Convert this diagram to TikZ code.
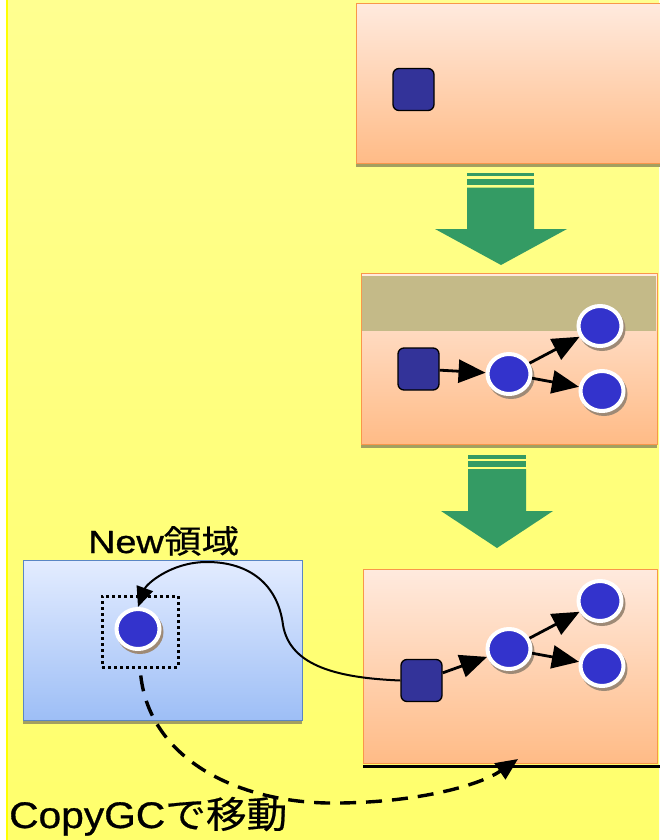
\documentclass[tikz,border=0pt]{standalone}
\usepackage{fontspec}
\usepackage{graphicx}
\setmainfont{Liberation Sans}
\newfontfamily\labelfont{Liberation Sans}[FakeBold=0.8]
\newfontfamily\cjk{Noto Sans CJK JP}[FakeBold=0.5]
\usetikzlibrary{arrows.meta,shapes.geometric,calc}

\definecolor{bgtop}{HTML}{FFFF90}
\definecolor{bgbot}{HTML}{FFFF6C}
\definecolor{edgeyellow}{HTML}{FFFF00}
\definecolor{heaptop}{HTML}{FFEADE}
\definecolor{heapbot}{HTML}{FFBB86}
\definecolor{heapedge}{HTML}{F9974A}
\definecolor{heapshadow}{HTML}{A3A060}
\definecolor{khaki}{HTML}{C4BA88}
\definecolor{newtop}{HTML}{E3ECFF}
\definecolor{newbot}{HTML}{9DBEF6}
\definecolor{newedge}{HTML}{5A86C4}
\definecolor{flowgreen}{HTML}{349B64}
\definecolor{rootblue}{HTML}{333399}
\definecolor{objblue}{HTML}{3333CC}
\definecolor{objshadow}{HTML}{9E8A76}

\tikzset{
  heapbox/.style={draw=heapedge, line width=1.2pt, top color=heaptop,
    bottom color=heapbot, inner sep=0pt, anchor=north west},
  newbox/.style={draw=newedge, line width=1.2pt, top color=newtop,
    bottom color=newbot, inner sep=0pt, anchor=north west},
  root/.style={draw=black, line width=1.3pt, fill=rootblue,
    rounded corners=6pt, minimum width=41pt, minimum height=42pt, inner sep=0pt},
  obj/.style={ellipse, draw=white, line width=4pt, fill=objblue,
    minimum width=43pt, minimum height=40pt, inner sep=0pt},
  objshade/.style={ellipse, fill=objshadow, minimum width=47pt,
    minimum height=44pt, inner sep=0pt},
  link/.style={line width=2.8pt, -{Triangle[length=27pt,width=23pt]}},
  curvelink/.style={line width=2pt, -{Triangle[length=20pt,width=17pt]}},
  movelink/.style={line width=3.4pt, dash pattern=on 16pt off 10pt,
    -{Triangle[length=22pt,width=19pt]}},
  selection/.style={draw=black, line width=3pt, dash pattern=on 3pt off 3pt,
    inner sep=0pt},
  label/.style={anchor=base west, inner sep=0pt}
}

\newcommand{\heapobj}[2]{%
  \node[objshade] at ($(#2)+(2,3)$) {};
  \node[obj] (#1) at (#2) {};}

\begin{document}
\begin{tikzpicture}[x=1pt,y=-1pt]
\useasboundingbox (0,0) rectangle (659,840);

% backdrop
\shade[top color=bgtop, bottom color=bgbot] (7,0) rectangle (659,840);
\fill[white] (0,0) rectangle (6,840);
\fill[edgeyellow] (6,0) rectangle (7.7,840);

% heap before marking
\fill[heapshadow] (356,158) rectangle (670,167);
\node[heapbox, minimum width=310pt, minimum height=160pt] (heapA) at (356,3) {};
\node[root] (rootA) at (413.5,89.5) {};

% first step arrow
\fill[flowgreen] (467,172.7) rectangle (534,176);
\fill[flowgreen] (467,179) rectangle (534,185);
\fill[flowgreen] (467,187.7) -- (534,187.7) -- (534,229) -- (567,229)
  -- (501,265) -- (435,229) -- (467,229) -- cycle;

% heap while marking
\fill[heapshadow] (361,440) rectangle (657,448);
\node[heapbox, minimum width=296pt, minimum height=171pt] (heapB) at (361,273) {};
\fill[khaki] (361.6,276) rectangle (656.4,331);
\node[root] (rootB) at (418.5,369) {};
\heapobj{objBm}{509,374}
\heapobj{objBt}{600,326}
\heapobj{objBb}{602,391}
\draw[link] (rootB) -- (objBm);
\draw[link] (objBm) -- (objBt);
\draw[link] (objBm) -- (objBb);

% second step arrow
\fill[flowgreen] (468,455) rectangle (526,459);
\fill[flowgreen] (468,461) rectangle (526,467);
\fill[flowgreen] (468,469) -- (526,469) -- (526,511) -- (553,511)
  -- (497,548) -- (441,511) -- (468,511) -- cycle;

% heap after marking
\draw[line width=3pt] (363,766) -- (670,766);
\node[heapbox, minimum width=294pt, minimum height=194pt] (heapC) at (363,569) {};
\node[root] (rootC) at (421.5,680.5) {};
\heapobj{objCm}{509,649}
\heapobj{objCt}{600,601}
\heapobj{objCb}{602,666}
\draw[link] (rootC) -- (objCm);
\draw[link] (objCm) -- (objCt);
\draw[link] (objCm) -- (objCb);

% new generation
\fill[heapshadow] (23,716) rectangle (302,723.5);
\node[newbox, minimum width=279pt, minimum height=160pt] (newgen) at (23,560) {};
\node[selection, minimum width=76pt, minimum height=71pt] (copied) at (140,631.5) {};
\heapobj{objN}{138,629}

% reference updated to the copy
\draw[curvelink] (rootC.west) .. controls (340,678) and (290,667) .. (283,625)
  .. controls (278,585) and (250,562) .. (207,562)
  .. controls (170,562) and (146,585) .. (objN.north);

% copy of the object
\coordinate (movetip) at (518,759);
\draw[movelink, shorten <=7pt] (copied.south) .. controls (150,760) and (240,805) .. (340,803)
  .. controls (420,802) and (480,785) .. (movetip);

% labels
\node[label, font=\fontsize{32}{32}\selectfont] (newlbl) at (88,553)
  {\scalebox{1.18}[1]{\labelfont New{\cjk 領域}}};
\node[label, font=\fontsize{37}{37}\selectfont] (copylbl) at (9,828)
  {\scalebox{1.1}[1]{\labelfont CopyGC{\cjk で移動}}};
\end{tikzpicture}
\end{document}
